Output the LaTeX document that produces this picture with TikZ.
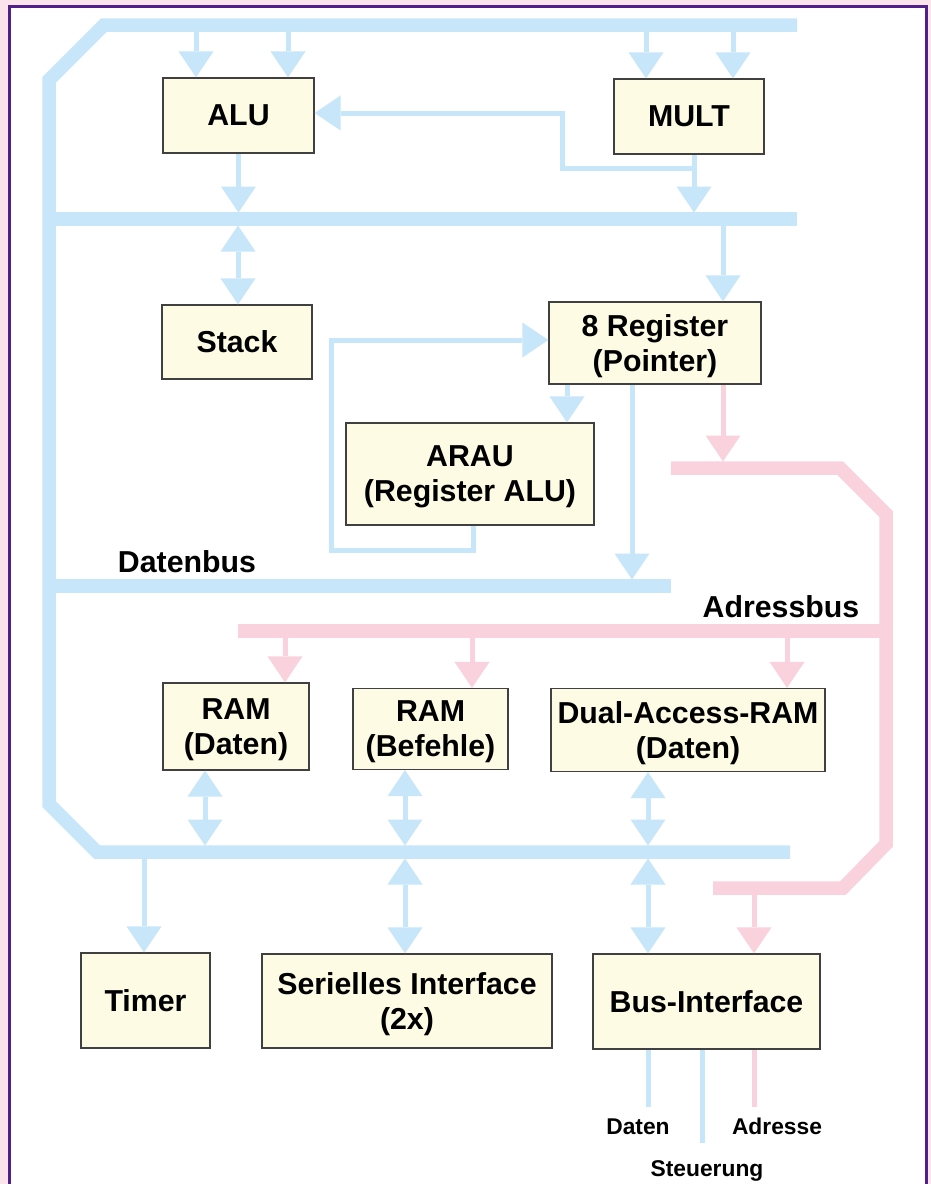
\documentclass[tikz,border=0pt]{standalone}
\usepackage{fontspec}
\setmainfont{Liberation Sans}
\usetikzlibrary{arrows.meta}
\definecolor{busblue}{RGB}{200,230,249}
\definecolor{buspink}{RGB}{249,210,222}
\definecolor{boxfill}{RGB}{254,251,228}
\definecolor{framepurple}{RGB}{82,32,140}
\definecolor{bgpink}{RGB}{252,228,236}
\begin{document}
\begin{tikzpicture}[x=1pt,y=-1pt,
  box/.style={draw=black!75, line width=1.2pt, fill=boxfill, inner sep=0pt, align=center,
    text depth=0pt, font=\fontsize{30.3}{35}\selectfont\bfseries},
  bbus/.style={draw=busblue, line width=13.5pt},
  pbus/.style={draw=buspink, line width=13.5pt},
  bline/.style={draw=busblue, line width=5pt},
  pline/.style={draw=buspink, line width=5pt},
  tip/.style={-{Triangle[width=35pt,length=26pt,line width=0pt]}},
  dtip/.style={{Triangle[width=35pt,length=26pt,line width=0pt]}-{Triangle[width=35pt,length=26pt,line width=0pt]}},
  lbl/.style={font=\fontsize{30.3}{35}\selectfont\bfseries, inner sep=0pt, anchor=base},
  slbl/.style={font=\fontsize{22.8}{26}\selectfont\bfseries, inner sep=0pt, anchor=base}]
\useasboundingbox (0,0) rectangle (931,1184);
\clip (0,0) rectangle (931,1184);
% frame
\fill[bgpink] (0,0) rectangle (931,1184);
\draw[framepurple, line width=3pt, fill=white] (9.5,6.5) rectangle (926.5,1200);

% blue buses
\draw[bbus] (797,25) -- (104,25) -- (49,80) -- (49,804) -- (97,852) -- (790,852);
\draw[bbus] (49,219) -- (797,219);
\draw[bbus] (49,586) -- (671,586);
% pink buses
\draw[pbus] (671,468) -- (840,468) -- (886,514) -- (886,844) -- (843,888) -- (713,888);
\draw[pbus] (238,631) -- (886,631);

% boxes
\node[box, minimum width=151pt, minimum height=75pt] (alu) at (238.5,115.5) {ALU};
\node[box, minimum width=150pt, minimum height=75pt] (mult) at (689,116.5) {MULT};
\node[box, minimum width=150pt, minimum height=74pt] (stack) at (237,342) {Stack};
\node[box, minimum width=212pt, minimum height=82pt] (reg) at (655,343) {8 Register\\(Pointer)};
\node[box, minimum width=248pt, minimum height=102pt] (arau) at (470,474) {ARAU\\(Register ALU)};
\node[box, minimum width=146pt, minimum height=87pt] (ramd) at (236,726.5) {RAM\\(Daten)};
\node[box, minimum width=155pt, minimum height=81pt] (ramb) at (430.5,729) {RAM\\(Befehle)};
\node[box, minimum width=274pt, minimum height=83pt] (dar) at (688,730) {Dual-Access-RAM\\(Daten)};
\node[box, minimum width=129pt, minimum height=95pt] (timer) at (145.5,1000.5) {Timer};
\node[box, minimum width=290pt, minimum height=94pt] (ser) at (407,1001) {Serielles Interface\\(2x)};
\node[box, minimum width=227pt, minimum height=95pt] (busif) at (706.5,1001.5) {Bus-Interface};

% bus tap coordinates
\coordinate (topbusA) at (196,31);
\coordinate (topbusB) at (288,31);
\coordinate (topbusC) at (646,31);
\coordinate (topbusD) at (733,31);
\coordinate (bus2top) at (0,212.5);
\coordinate (bus2bot) at (0,225.5);
\coordinate (dbustop) at (0,579.5);
\coordinate (pbus1top) at (0,461.5);
\coordinate (abusbot) at (0,637.5);
\coordinate (bbustop) at (0,845.5);
\coordinate (bbusbot) at (0,858.5);
\coordinate (pbus2bot) at (0,894.5);

% blue connectors, upper part
\draw[bline,tip] (topbusA) -- (topbusA |- alu.north);
\draw[bline,tip] (topbusB) -- (topbusB |- alu.north);
\draw[bline,tip] (topbusC) -- (topbusC |- mult.north);
\draw[bline,tip] (topbusD) -- (topbusD |- mult.north);
\draw[bline,tip] (alu.south) -- (alu.south |- bus2top);
\draw[bline,dtip] (238,0 |- bus2bot) -- (238,0 |- stack.north);
\draw[bline,tip] (694,0 |- mult.south) -- (694,0 |- bus2top);
\draw[bline,tip] (694,168) -- (562,168) -- (562,113) -- (alu.east |- 0,113);
\draw[bline,tip] (723,0 |- bus2bot) -- (723,0 |- reg.north);
\draw[bline,tip] (567,0 |- reg.south) -- (567,0 |- arau.north);
\draw[bline,tip] (473,0 |- arau.south) -- (473,550) -- (331,550) -- (331,340) -- (reg.west |- 0,340);
\draw[bline,tip] (632,0 |- reg.south) -- (632,0 |- dbustop);

% pink connectors
\draw[pline,tip] (723,0 |- reg.south) -- (723,0 |- pbus1top);
\draw[pline,tip] (285,0 |- abusbot) -- (285,0 |- ramd.north);
\draw[pline,tip] (472,0 |- abusbot) -- (472,0 |- ramb.north);
\draw[pline,tip] (787,0 |- abusbot) -- (787,0 |- dar.north);
\draw[pline,tip] (754,0 |- pbus2bot) -- (754,0 |- busif.north);

% blue connectors, lower part
\draw[bline,dtip] (205,0 |- ramd.south) -- (205,0 |- bbustop);
\draw[bline,dtip] (405,0 |- ramb.south) -- (405,0 |- bbustop);
\draw[bline,dtip] (648,0 |- dar.south) -- (648,0 |- bbustop);
\draw[bline,tip] (144,0 |- bbusbot) -- (144,0 |- timer.north);
\draw[bline,dtip] (405,0 |- bbusbot) -- (405,0 |- ser.north);
\draw[bline,dtip] (648,0 |- bbusbot) -- (648,0 |- busif.north);

% bus interface outputs
\coordinate (datenend) at (648,1107);
\coordinate (steuerend) at (702,1143);
\coordinate (adrend) at (754,1107);
\draw[bline] (datenend |- busif.south) -- (datenend);
\draw[bline] (steuerend |- busif.south) -- (steuerend);
\draw[pline] (adrend |- busif.south) -- (adrend);

% labels
\node[lbl] (datenbus) at (187,572) {Datenbus};
\node[lbl] (adressbus) at (781,617) {Adressbus};
\node[slbl] (daten) at (638,1134) {Daten};
\node[slbl] (adresse) at (777,1134) {Adresse};
\node[slbl] (steuerung) at (707,1176) {Steuerung};
\end{tikzpicture}
\end{document}
